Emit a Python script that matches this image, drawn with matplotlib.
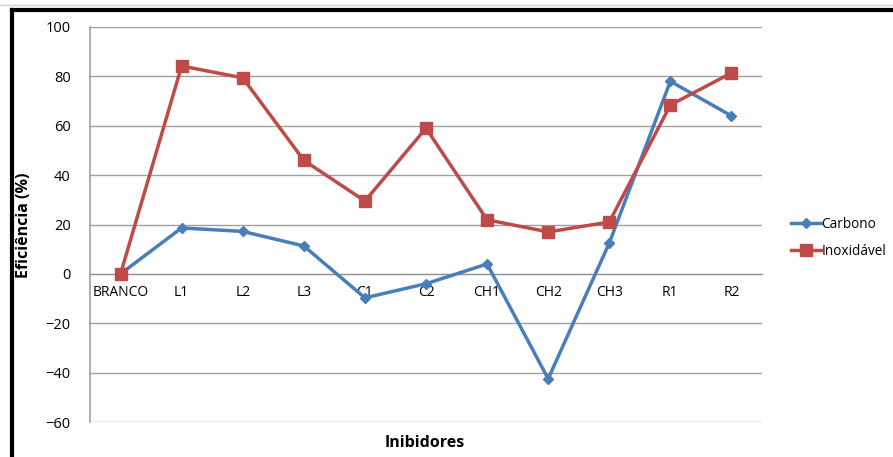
import matplotlib.pyplot as plt
import numpy as np

categorias = ["BRANCO", "L1", "L2", "L3", "C1", "C2", "CH1", "CH2", "CH3", "R1", "R2"]
carbono = [0, 18.6, 17.2, 11.3, -9.7, -4.0, 4.0, -42.5, 12.5, 78.0, 64.0]
inoxidavel = [0, 84.2, 79.4, 46.0, 29.5, 59.0, 21.9, 17.0, 21.0, 68.4, 81.4]

plt.rcParams['font.family'] = ['Open Sans', 'DejaVu Sans']

fig = plt.figure(figsize=(8.93, 4.57), dpi=100)
ax = fig.add_axes([90/893, 1 - 422/457, 672/893, 395/457])

x = np.arange(len(categorias))
ax.plot(x, carbono, color='#4A7EBB', lw=2.5, marker='D', ms=5.5, label='Carbono', zorder=3)
ax.plot(x, inoxidavel, color='#BE4B48', lw=2.5, marker='s', ms=8, label='Inoxidável', zorder=3)

ax.set_xlim(-0.5, len(categorias) - 0.5)
ax.set_ylim(-60, 100)
ax.set_yticks(range(-60, 101, 20))
ax.grid(axis='y', color='#A0A0A0', lw=1)
ax.set_axisbelow(True)
ax.tick_params(axis='y', length=0, labelsize=10.5, pad=14)
ax.tick_params(axis='x', length=0, labelsize=10, pad=8)
ax.set_xticks(x)
ax.set_xticklabels(categorias)

for s in ['top', 'right']:
    ax.spines[s].set_visible(False)
ax.spines['left'].set_color('#A0A0A0')
ax.spines['bottom'].set_color('#909090')
ax.spines['bottom'].set_position(('data', 0))
ax.spines['left'].set_linewidth(1.2)

ax.set_ylabel('Eficiência (%)', fontsize=11.5, fontweight='bold')
ax.yaxis.set_label_coords(32/893, 1 - 225/457, transform=fig.transFigure)
fig.text(425/893, 1 - 443/457, 'Inibidores', fontsize=11.5, fontweight='bold', ha='center', va='center')

ax.legend(loc='center left', bbox_to_anchor=(784/893, 1 - 238/457), bbox_transform=fig.transFigure,
          frameon=False, fontsize=9.8, handlelength=2.2, handletextpad=0.05, labelspacing=0.9, borderpad=0)

# moldura do gráfico
fig.add_artist(plt.Line2D([12/893, 12/893], [0, 1 - 10/457], color='black', lw=3, transform=fig.transFigure))
fig.add_artist(plt.Line2D([12/893, 1], [1 - 10/457, 1 - 10/457], color='black', lw=3, transform=fig.transFigure))
fig.add_artist(plt.Line2D([0, 1], [1 - 5/457, 1 - 5/457], color='#D0D0D0', lw=1, transform=fig.transFigure))

fig.savefig('out.png', dpi=100)
